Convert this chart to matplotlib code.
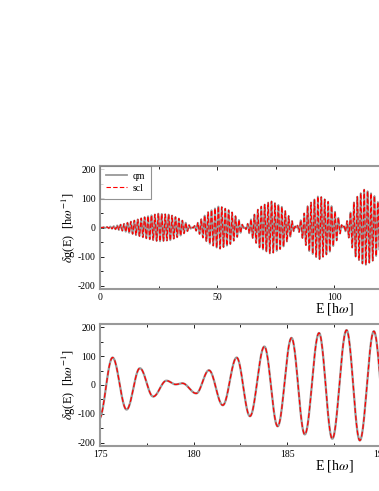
import matplotlib
matplotlib.use("Agg")
import matplotlib.pyplot as plt
import numpy as np
from matplotlib.ticker import MultipleLocator

# --- values ---
# top panel: signed beat envelope of delta g(E) and the carrier period
top_env_E = [0, 3, 6, 10, 15, 20, 25, 30, 34, 37, 39.5,
             42, 46, 51, 56, 59.5, 61.7,
             64, 68, 73, 78, 81.5, 83.8,
             86, 89, 93.6, 98, 101.5, 103.8,
             106, 109, 113, 117, 120, 123]
top_env_A = [0, 2, 5, 12, 25, 38, 48, 44, 30, 15, 0,
             -18, -52, -74, -56, -25, 0,
             22, 68, 91, 70, 30, 0,
             -28, -78, -110, -86, -40, 0,
             28, 98, 131, 112, 70, 0]
carrier_period = 1.466

# bottom panel: successive extrema (E, delta g)
bot_ext_E = [174.95, 175.67, 176.42, 177.13, 177.84, 178.55, 179.04, 179.40,
             180.14, 180.82, 181.56, 182.30, 183.01, 183.78, 184.49, 185.23,
             185.94, 186.70, 187.41, 188.17, 188.88, 189.63, 190.35]
bot_ext_V = [-118, 95, -85, 58, -40, 15, 2, 6,
             -29, 51, -70, 95, -108, 133, -143, 163,
             -171, 180, -186, 190, -192, 186, -190]

# --- curves ---
E_top = np.arange(0, 123, 0.02)
g_top = np.interp(E_top, top_env_E, top_env_A) * np.cos(2 * np.pi * E_top / carrier_period)

E_bot, g_bot = [], []
for i in range(len(bot_ext_E) - 1):
    t = np.linspace(0, 1, 40, endpoint=False)
    E_bot.append(bot_ext_E[i] + (bot_ext_E[i + 1] - bot_ext_E[i]) * t)
    g_bot.append(bot_ext_V[i] + (bot_ext_V[i + 1] - bot_ext_V[i]) * (1 - np.cos(np.pi * t)) / 2)
E_bot = np.concatenate(E_bot)
g_bot = np.concatenate(g_bot)

plt.rcParams['font.family'] = 'Liberation Serif'
plt.rcParams['mathtext.fontset'] = 'stix'
plt.rcParams['axes.unicode_minus'] = False

fig = plt.figure(figsize=(3.79, 4.91), dpi=100)
ax1 = fig.add_axes([100 / 379, 1 - 289 / 491, 468 / 379, 123 / 491])
ax2 = fig.add_axes([100 / 379, 1 - 446 / 491, 468 / 379, 122 / 491])

ax1.plot(E_top, g_top, color='#999999', lw=1.3, label='qm')
ax1.plot(E_top, g_top, color='red', lw=0.8, ls=(0, (4, 2)), label='scl')
ax2.plot(E_bot, g_bot, color='#999999', lw=1.6)
ax2.plot(E_bot, g_bot, color='red', lw=0.9, ls=(0, (4, 2)))

ax1.set_xlim(0, 200)
ax2.set_xlim(175, 200)
for ax, major, minor in ((ax1, 50, 25), (ax2, 5, 2.5)):
    ax.set_ylim(-211, 211)
    ax.xaxis.set_major_locator(MultipleLocator(major))
    ax.xaxis.set_minor_locator(MultipleLocator(minor))
    ax.yaxis.set_major_locator(MultipleLocator(100))
    ax.yaxis.set_minor_locator(MultipleLocator(50))
    ax.tick_params(which='both', direction='in', top=True, right=True,
                   labelsize=7, width=0.6, pad=3)
    ax.tick_params(which='major', length=3)
    ax.tick_params(which='minor', length=2)
    for s in ax.spines.values():
        s.set_color('#999999')
        s.set_linewidth(1.5)
    ax.set_xlabel(r'E [h$\omega$]', fontsize=10, labelpad=-1)
    ax.set_ylabel(r'$\delta$g(E)  [h$\omega^{-1}$]', fontsize=9, labelpad=0)

leg = ax1.legend(loc='upper left', borderaxespad=0, fontsize=7, fancybox=False,
                 handlelength=2.2, borderpad=0.6, labelspacing=0.3, handletextpad=0.6)
leg.get_frame().set_edgecolor('#777777')
leg.get_frame().set_linewidth(0.8)

fig.savefig('out.png', dpi=100)
